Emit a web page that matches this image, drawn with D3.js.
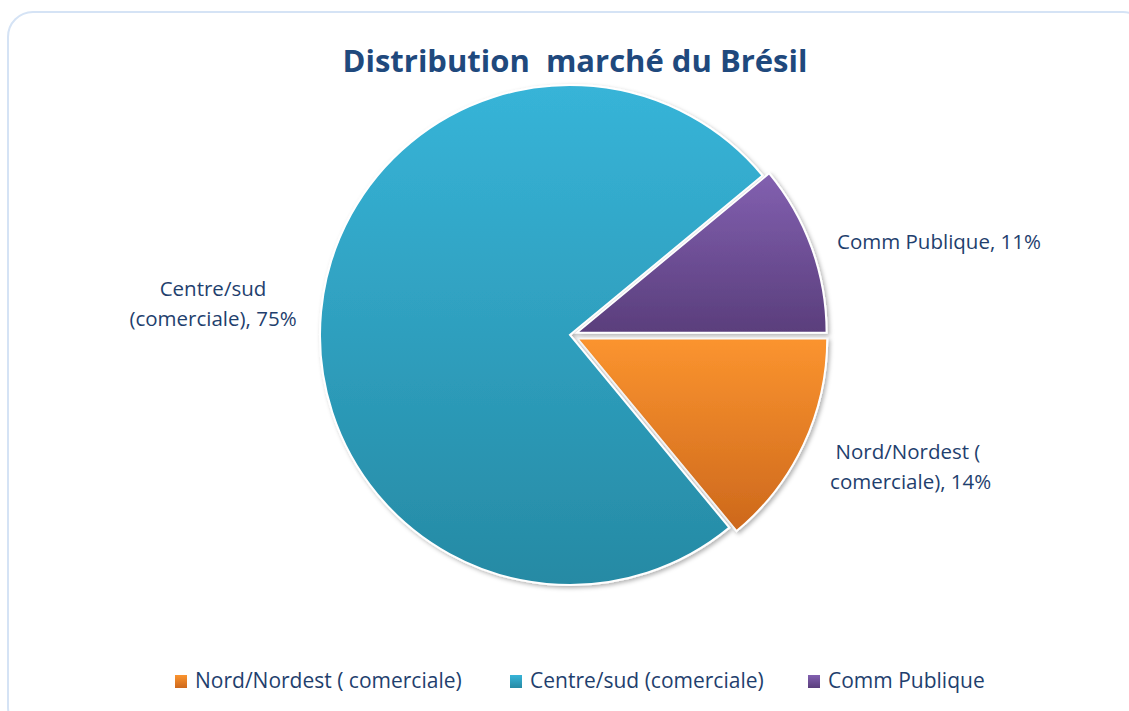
<!DOCTYPE html>
<html>
<head>
<meta charset="utf-8">
<script src="https://cdn.jsdelivr.net/npm/d3@7"></script>
<style>
  body { margin: 0; background: #fff; }
  text { font-family: "Open Sans", Lato, sans-serif; }
</style>
</head>
<body>
<div id="chart"></div>
<script>
// data
var categories = ["Nord/Nordest ( comerciale)", "Centre/sud (comerciale)", "Comm Publique"];
var shares = [14, 75, 11];
var sliceLabels = [["Nord/Nordest (", " comerciale), 14%"], ["Centre/sud", "(comerciale), 75%"], ["Comm Publique, 11%"]];
var colorsTop = ["#fb942f", "#37b4d8", "#8260b0"];
var colorsBottom = ["#cd681c", "#268aa4", "#5a3e7c"];

var svgWidth = 1129;
var svgHeight = 711;
var textColor = "#1f3f6e";

var svg = d3.select("#chart")
    .append("svg")
    .attr("width", svgWidth)
    .attr("height", svgHeight);

// frame
svg.append("rect")
    .attr("x", 8)
    .attr("y", 12)
    .attr("width", 1140)
    .attr("height", 720)
    .attr("rx", 25)
    .attr("fill", "#fff")
    .attr("stroke", "#d5e3f5")
    .attr("stroke-width", 2);

var defs = svg.append("defs");
categories.forEach(function (c, i) {
    // gradient per slice, top to bottom of its own box
    var g = defs.append("linearGradient")
        .attr("id", "grad" + i)
        .attr("x1", 0).attr("y1", 0).attr("x2", 0).attr("y2", 1);
    g.append("stop").attr("offset", "0%").attr("stop-color", colorsTop[i]);
    g.append("stop").attr("offset", "100%").attr("stop-color", colorsBottom[i]);
});
var shadow = defs.append("filter").attr("id", "shadow")
    .attr("x", "-10%").attr("y", "-10%").attr("width", "120%").attr("height", "120%");
shadow.append("feDropShadow")
    .attr("dx", 2).attr("dy", 2).attr("stdDeviation", 2)
    .attr("flood-color", "#000").attr("flood-opacity", 0.3);

// title
svg.append("text")
    .attr("x", 575)
    .attr("y", 72)
    .attr("text-anchor", "middle")
    .attr("font-size", "31px")
    .attr("font-weight", "bold")
    .attr("fill", "#1f497d")
    .style("white-space", "pre")
    .text("Distribution  marché du Brésil");

// pie
var cx = 570, cy = 335, radius = 250;
var explode = [8, 0, 7];

var pie = d3.pie().sort(null).value(d => d)
    .startAngle(Math.PI / 2)
    .endAngle(Math.PI / 2 + 2 * Math.PI);
var arcs = pie(shares);
var arc = d3.arc().innerRadius(0).outerRadius(radius);

var pieGroup = svg.append("g")
    .attr("transform", `translate(${cx}, ${cy})`);

pieGroup.selectAll("path")
    .data(arcs)
    .enter()
    .append("path")
    .attr("transform", function (d, i) {
        var a = (d.startAngle + d.endAngle) / 2;
        return `translate(${Math.sin(a) * explode[i]}, ${-Math.cos(a) * explode[i]})`;
    })
    .attr("d", arc)
    .attr("fill", (d, i) => `url(#grad${i})`)
    .attr("stroke", "#fff")
    .attr("stroke-width", 2)
    .attr("filter", "url(#shadow)");

// slice labels
var labelPos = [[908, 459], [213, 296], [939, 249]];
var labels = svg.append("g");
sliceLabels.forEach(function (lines, i) {
    var t = labels.append("text")
        .attr("x", labelPos[i][0])
        .attr("y", labelPos[i][1])
        .attr("text-anchor", "middle")
        .attr("font-size", "20.5px")
        .attr("fill", textColor)
        .style("white-space", "pre");
    lines.forEach(function (l, j) {
        t.append("tspan")
            .attr("x", labelPos[i][0])
            .attr("dy", j === 0 ? 0 : 30)
            .text(l);
    });
});

// legend
var legendX = [175, 510, 808];
var legend = svg.append("g");
categories.forEach(function (c, i) {
    legend.append("rect")
        .attr("x", legendX[i])
        .attr("y", 675)
        .attr("width", 12)
        .attr("height", 13)
        .attr("fill", `url(#grad${i})`);
    legend.append("text")
        .attr("x", legendX[i] + 20)
        .attr("y", 688)
        .attr("font-size", "21px")
        .attr("fill", textColor)
        .style("white-space", "pre")
        .text(c);
});
</script>
</body>
</html>
